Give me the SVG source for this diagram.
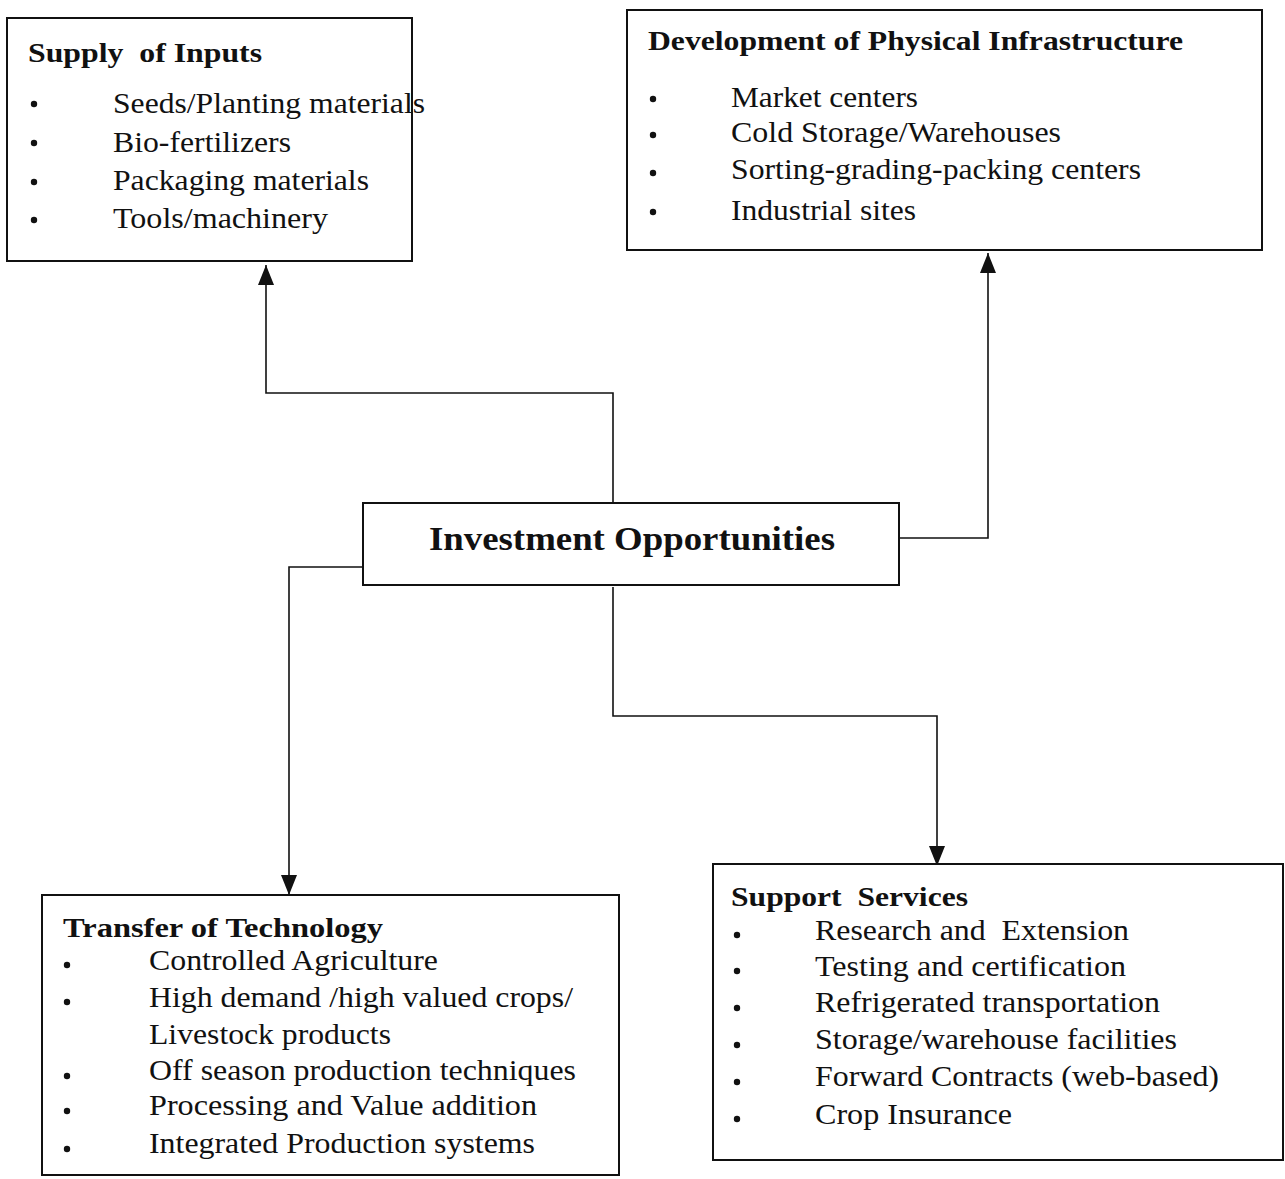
<svg xmlns="http://www.w3.org/2000/svg" width="1285" height="1179" viewBox="0 0 1285 1179">
<style>
.box{fill:#fff;stroke:#111;stroke-width:2}
.ln{fill:none;stroke:#111;stroke-width:1.6}
.t{font-size:29px;fill:#111}
.h{font-size:28px;font-weight:bold;fill:#111}
.c{font-size:34px;font-weight:bold;fill:#111}
.b{fill:#111}
</style>
<defs>
<marker id="ah" viewBox="0 0 20 16" refX="20" refY="8" markerWidth="20" markerHeight="16" markerUnits="userSpaceOnUse" orient="auto">
<path d="M0,0 L20,8 L0,16 Z" fill="#111"/>
</marker>
</defs>
<rect width="1285" height="1179" fill="#fff"/>
<g id="connectors">
<path class="ln" d="M613,503 V393 H266 V265" marker-end="url(#ah)"/>
<path class="ln" d="M899,538 H988 V253" marker-end="url(#ah)"/>
<path class="ln" d="M363,567 H289 V895" marker-end="url(#ah)"/>
<path class="ln" d="M613,587 V716 H937 V866" marker-end="url(#ah)"/>
</g>
<g font-family="Liberation Serif, Times New Roman, serif">
<g id="supply">
<rect class="box" x="7" y="18" width="405" height="243"/>
<text class="h" x="28" y="62" textLength="234" lengthAdjust="spacingAndGlyphs" xml:space="preserve">Supply  of Inputs</text>
<circle class="b" cx="34" cy="104" r="3.2"/><text class="t" x="113" y="113" textLength="312" lengthAdjust="spacingAndGlyphs">Seeds/Planting materials</text>
<circle class="b" cx="34" cy="143" r="3.2"/><text class="t" x="113" y="152" textLength="178" lengthAdjust="spacingAndGlyphs">Bio-fertilizers</text>
<circle class="b" cx="34" cy="182" r="3.2"/><text class="t" x="113" y="190" textLength="256" lengthAdjust="spacingAndGlyphs">Packaging materials</text>
<circle class="b" cx="34" cy="220" r="3.2"/><text class="t" x="113" y="228" textLength="215" lengthAdjust="spacingAndGlyphs">Tools/machinery</text>
</g>
<g id="infrastructure">
<rect class="box" x="627" y="10" width="635" height="240"/>
<text class="h" x="648" y="50" textLength="535" lengthAdjust="spacingAndGlyphs">Development of Physical Infrastructure</text>
<circle class="b" cx="653" cy="99" r="3.2"/><text class="t" x="731" y="107" textLength="187" lengthAdjust="spacingAndGlyphs">Market centers</text>
<circle class="b" cx="653" cy="135" r="3.2"/><text class="t" x="731" y="142" textLength="330" lengthAdjust="spacingAndGlyphs">Cold Storage/Warehouses</text>
<circle class="b" cx="653" cy="173" r="3.2"/><text class="t" x="731" y="179" textLength="410" lengthAdjust="spacingAndGlyphs">Sorting-grading-packing centers</text>
<circle class="b" cx="653" cy="212" r="3.2"/><text class="t" x="731" y="220" textLength="185" lengthAdjust="spacingAndGlyphs">Industrial sites</text>
</g>
<g id="investment">
<rect class="box" x="363" y="503" width="536" height="82"/>
<text class="c" x="429" y="550" textLength="406" lengthAdjust="spacingAndGlyphs">Investment Opportunities</text>
</g>
<g id="technology">
<rect class="box" x="42" y="895" width="577" height="280"/>
<text class="h" x="63" y="937" textLength="320" lengthAdjust="spacingAndGlyphs">Transfer of Technology</text>
<circle class="b" cx="67" cy="965" r="3.2"/><text class="t" x="149" y="970" textLength="289" lengthAdjust="spacingAndGlyphs">Controlled Agriculture</text>
<circle class="b" cx="67" cy="1002" r="3.2"/><text class="t" x="149" y="1007" textLength="424" lengthAdjust="spacingAndGlyphs">High demand /high valued crops/</text>
<text class="t" x="149" y="1044" textLength="242" lengthAdjust="spacingAndGlyphs">Livestock products</text>
<circle class="b" cx="67" cy="1076" r="3.2"/><text class="t" x="149" y="1080" textLength="427" lengthAdjust="spacingAndGlyphs">Off season production techniques</text>
<circle class="b" cx="67" cy="1111" r="3.2"/><text class="t" x="149" y="1115" textLength="388" lengthAdjust="spacingAndGlyphs">Processing and Value addition</text>
<circle class="b" cx="67" cy="1149" r="3.2"/><text class="t" x="149" y="1153" textLength="386" lengthAdjust="spacingAndGlyphs">Integrated Production systems</text>
</g>
<g id="support">
<rect class="box" x="713" y="864" width="570" height="296"/>
<text class="h" x="731" y="906" textLength="237" lengthAdjust="spacingAndGlyphs" xml:space="preserve">Support  Services</text>
<circle class="b" cx="737" cy="935" r="3.2"/><text class="t" x="815" y="940" textLength="314" lengthAdjust="spacingAndGlyphs" xml:space="preserve">Research and  Extension</text>
<circle class="b" cx="737" cy="971" r="3.2"/><text class="t" x="815" y="976" textLength="311" lengthAdjust="spacingAndGlyphs">Testing and certification</text>
<circle class="b" cx="737" cy="1008" r="3.2"/><text class="t" x="815" y="1012" textLength="345" lengthAdjust="spacingAndGlyphs">Refrigerated transportation</text>
<circle class="b" cx="737" cy="1045" r="3.2"/><text class="t" x="815" y="1049" textLength="362" lengthAdjust="spacingAndGlyphs">Storage/warehouse facilities</text>
<circle class="b" cx="737" cy="1082" r="3.2"/><text class="t" x="815" y="1086" textLength="404" lengthAdjust="spacingAndGlyphs">Forward Contracts (web-based)</text>
<circle class="b" cx="737" cy="1119" r="3.2"/><text class="t" x="815" y="1124" textLength="197" lengthAdjust="spacingAndGlyphs">Crop Insurance</text>
</g>
</g>
</svg>
